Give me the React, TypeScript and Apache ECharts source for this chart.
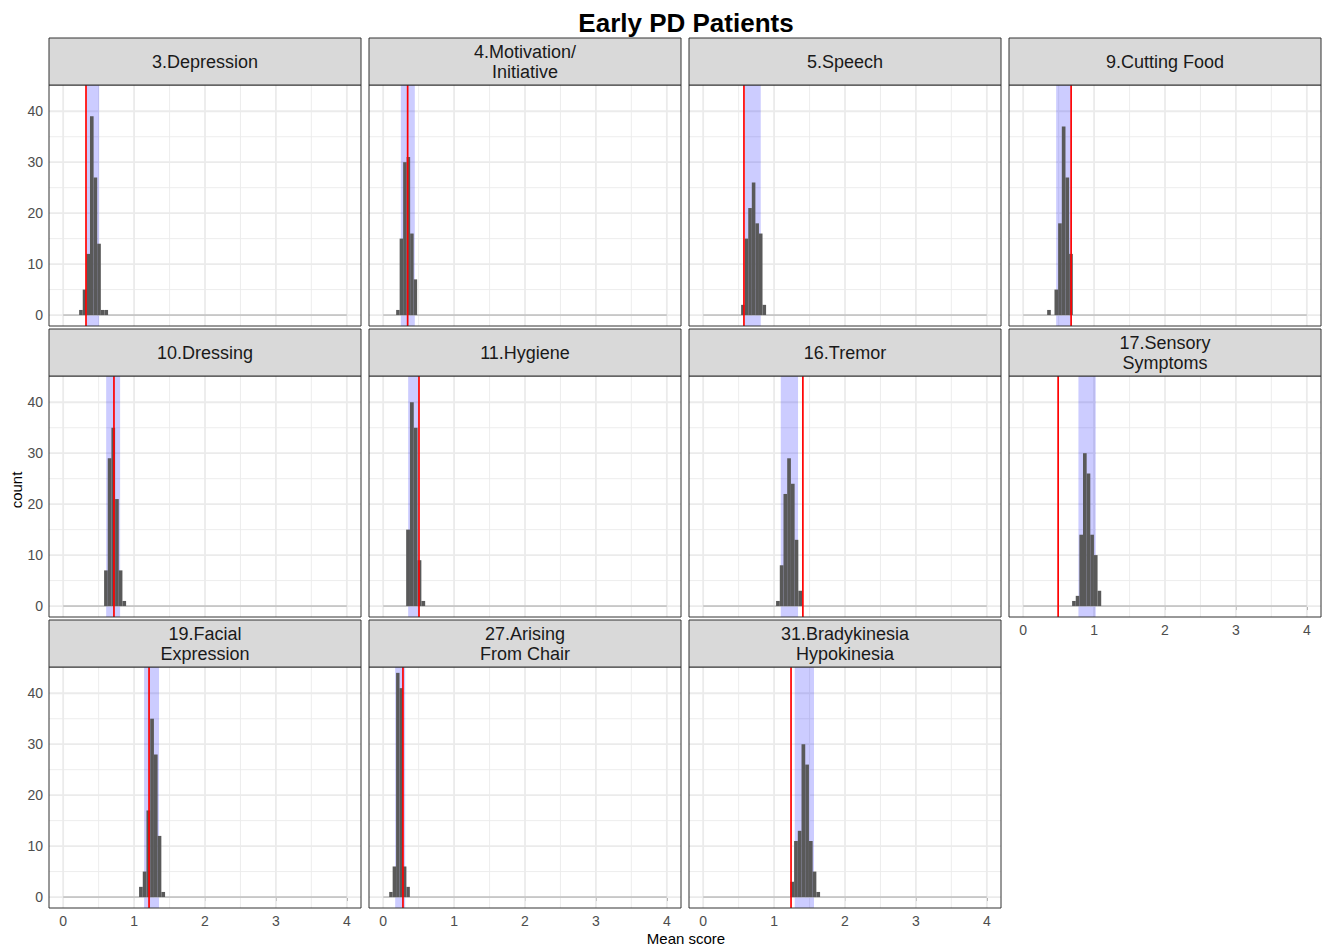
import React, { useEffect, useRef } from "react";
import * as echarts from "echarts";

// ---------------- data ----------------
const panelTitles = [
  "3.Depression",
  "4.Motivation/\nInitiative",
  "5.Speech",
  "9.Cutting Food",
  "10.Dressing",
  "11.Hygiene",
  "16.Tremor",
  "17.Sensory\nSymptoms",
  "19.Facial\nExpression",
  "27.Arising\nFrom Chair",
  "31.Bradykinesia\nHypokinesia",
];
const binStarts = [0.225, 0.183, 0.535, 0.338, 0.577, 0.324, 1.028, 0.69, 1.07, 0.085, 1.23];
const binWidths = [0.051, 0.0493, 0.0503, 0.0517, 0.0517, 0.0536, 0.0523, 0.0513, 0.0524, 0.0485, 0.0523];
const binCounts = [
  [1, 5, 12, 39, 27, 14, 1, 1],
  [1, 15, 30, 31, 16, 7],
  [2, 15, 21, 26, 18, 16, 2],
  [1, 0, 5, 18, 37, 27, 12],
  [7, 29, 35, 21, 7, 1],
  [15, 40, 35, 9, 1],
  [1, 8, 22, 29, 24, 13, 3],
  [1, 2, 14, 30, 26, 14, 10, 3],
  [2, 5, 17, 35, 28, 12, 1],
  [1, 6, 44, 41, 6, 2],
  [3, 11, 13, 30, 26, 11, 5, 1],
];
const observedMeans = [0.322, 0.345, 0.575, 0.676, 0.716, 0.505, 1.406, 0.493, 1.211, 0.279, 1.239];
const ciLower = [0.335, 0.249, 0.587, 0.465, 0.606, 0.352, 1.094, 0.779, 1.141, 0.169, 1.291];
const ciUpper = [0.507, 0.446, 0.812, 0.671, 0.803, 0.493, 1.338, 1.023, 1.352, 0.31, 1.563];
const histSpan = [0, 4];
const xTicks = [0, 1, 2, 3, 4];
const xMinorTicks = [0.5, 1.5, 2.5, 3.5];
const yTicks = [0, 10, 20, 30, 40];
const yMinorTicks = [5, 15, 25, 35];

const X_MIN = -0.2;
const X_MAX = 4.2;
const Y_MIN = -2.15;
const Y_MAX = 45.15;

// ---------------- layout ----------------
const FONT = "'Liberation Sans', Arial, Helvetica, sans-serif";
const colLeft = [49, 369, 689, 1009];
const panelW = 312;
const stripTop = [38, 329, 620];
const stripH = 47;
const plotH = 241;
const NCOL = 4;

function buildOption() {
  const n = panelTitles.length;
  const grids: any[] = [];
  const xAxes: any[] = [];
  const yAxes: any[] = [];
  const series: any[] = [];
  const graphics: any[] = [];

  for (let i = 0; i < n; i++) {
    const row = Math.floor(i / NCOL);
    const col = i % NCOL;
    const left = colLeft[col];
    const top = stripTop[row] + stripH;
    const hasX = i + NCOL >= n;
    const hasY = col === 0;

    grids.push({ left, top, width: panelW, height: plotH, show: false, containLabel: false });

    xAxes.push({
      type: "value",
      gridIndex: i,
      min: X_MIN,
      max: X_MAX,
      splitLine: { show: false },
      axisLine: { show: false },
      axisTick: { show: hasX, customValues: xTicks, length: 4, lineStyle: { color: "#333333", width: 1 } },
      axisLabel: { show: hasX, customValues: xTicks, margin: 6, color: "#4d4d4d", fontSize: 14, fontFamily: FONT },
    });
    yAxes.push({
      type: "value",
      gridIndex: i,
      min: Y_MIN,
      max: Y_MAX,
      splitLine: { show: false },
      axisLine: { show: false },
      axisTick: { show: hasY, customValues: yTicks, length: 4, lineStyle: { color: "#333333", width: 1 } },
      axisLabel: { show: hasY, customValues: yTicks, margin: 6, color: "#4d4d4d", fontSize: 14, fontFamily: FONT },
    });

    // grid lines: [axisFlag, majorFlag, value]
    const gridData = [
      ...xMinorTicks.map((v) => [0, 0, v]),
      ...yMinorTicks.map((v) => [1, 0, v]),
      ...xTicks.map((v) => [0, 1, v]),
      ...yTicks.map((v) => [1, 1, v]),
    ];
    series.push({
      type: "custom",
      xAxisIndex: i,
      yAxisIndex: i,
      silent: true,
      z: 1,
      data: gridData,
      renderItem: (params: any, api: any) => {
        const axis = api.value(0);
        const major = api.value(1);
        const v = api.value(2);
        const p0 = axis === 0 ? api.coord([v, Y_MIN]) : api.coord([X_MIN, v]);
        const p1 = axis === 0 ? api.coord([v, Y_MAX]) : api.coord([X_MAX, v]);
        return {
          type: "line",
          shape: { x1: p0[0], y1: p0[1], x2: p1[0], y2: p1[1] },
          style: { stroke: "#ebebeb", lineWidth: major ? 1.8 : 0.9 },
        };
      },
    });

    // CI band
    series.push({
      type: "custom",
      xAxisIndex: i,
      yAxisIndex: i,
      silent: true,
      z: 2,
      data: [[ciLower[i], 0, ciUpper[i]]],
      renderItem: (params: any, api: any) => {
        const p0 = api.coord([api.value(0), Y_MIN]);
        const p1 = api.coord([api.value(2), Y_MAX]);
        return {
          type: "rect",
          shape: { x: p0[0], y: p1[1], width: p1[0] - p0[0], height: p0[1] - p1[1] },
          style: { fill: "rgba(0,0,255,0.2)" },
        };
      },
    });

    // zero-count baseline of histogram
    series.push({
      type: "custom",
      xAxisIndex: i,
      yAxisIndex: i,
      silent: true,
      z: 3,
      data: [[histSpan[0], 0, histSpan[1]]],
      renderItem: (params: any, api: any) => {
        const p0 = api.coord([api.value(0), api.value(1)]);
        const p1 = api.coord([api.value(2), api.value(1)]);
        return {
          type: "line",
          shape: { x1: p0[0], y1: p0[1], x2: p1[0], y2: p1[1] },
          style: { stroke: "#a8a8a8", lineWidth: 1 },
        };
      },
    });

    // histogram bars: [x0, count, x1]
    const histData = binCounts[i].map((c, k) => [
      binStarts[i] + k * binWidths[i],
      c,
      binStarts[i] + (k + 1) * binWidths[i],
    ]);
    series.push({
      type: "custom",
      xAxisIndex: i,
      yAxisIndex: i,
      silent: true,
      z: 4,
      data: histData,
      renderItem: (params: any, api: any) => {
        const p0 = api.coord([api.value(0), 0]);
        const p1 = api.coord([api.value(2), api.value(1)]);
        return {
          type: "rect",
          shape: { x: p0[0], y: p1[1], width: p1[0] - p0[0], height: p0[1] - p1[1] },
          style: { fill: "#595959" },
        };
      },
    });

    // observed mean (red line)
    series.push({
      type: "custom",
      xAxisIndex: i,
      yAxisIndex: i,
      silent: true,
      z: 5,
      data: [[observedMeans[i], 0]],
      renderItem: (params: any, api: any) => {
        const p0 = api.coord([api.value(0), Y_MIN]);
        const p1 = api.coord([api.value(0), Y_MAX]);
        return {
          type: "line",
          shape: { x1: p0[0], y1: p0[1], x2: p1[0], y2: p1[1] },
          style: { stroke: "#ff0000", lineWidth: 1.7 },
        };
      },
    });

    // panel border
    graphics.push({
      type: "rect",
      z: 100,
      silent: true,
      shape: { x: left, y: top, width: panelW, height: plotH },
      style: { fill: "none", stroke: "#333333", lineWidth: 1 },
    });
    // strip
    graphics.push({
      type: "rect",
      z: 100,
      silent: true,
      shape: { x: left, y: stripTop[row], width: panelW, height: stripH },
      style: { fill: "#d9d9d9", stroke: "#333333", lineWidth: 1 },
    });
    graphics.push({
      type: "text",
      z: 101,
      silent: true,
      x: left + panelW / 2,
      y: stripTop[row] + stripH / 2,
      style: {
        text: panelTitles[i],
        fill: "#1a1a1a",
        fontSize: 18,
        fontFamily: FONT,
        align: "center",
        verticalAlign: "middle",
        lineHeight: 20,
      },
    });
  }

  graphics.push({
    type: "text",
    z: 101,
    x: 686,
    y: 23,
    style: {
      text: "Early PD Patients",
      fill: "#000000",
      fontSize: 26,
      fontWeight: "bold",
      fontFamily: FONT,
      align: "center",
      verticalAlign: "middle",
    },
  });
  graphics.push({
    type: "text",
    z: 101,
    x: 686,
    y: 938,
    style: {
      text: "Mean score",
      fill: "#000000",
      fontSize: 15,
      fontFamily: FONT,
      align: "center",
      verticalAlign: "middle",
    },
  });
  graphics.push({
    type: "text",
    z: 101,
    x: 16,
    y: 490,
    rotation: Math.PI / 2,
    style: {
      text: "count",
      fill: "#000000",
      fontSize: 15,
      fontFamily: FONT,
      align: "center",
      verticalAlign: "middle",
    },
  });

  return {
    animation: false,
    backgroundColor: "#ffffff",
    textStyle: { fontFamily: FONT },
    grid: grids,
    xAxis: xAxes,
    yAxis: yAxes,
    series,
    graphic: graphics,
  };
}

export default function App() {
  const ref = useRef<HTMLDivElement>(null);
  useEffect(() => {
    if (!ref.current) return;
    const chart = echarts.init(ref.current, undefined, { renderer: "svg" });
    chart.setOption(buildOption() as any);
    return () => chart.dispose();
  }, []);
  return (
    <div
      ref={ref}
      style={{ position: "absolute", left: 0, top: 0, width: 1324, height: 948, background: "#fff" }}
    />
  );
}
